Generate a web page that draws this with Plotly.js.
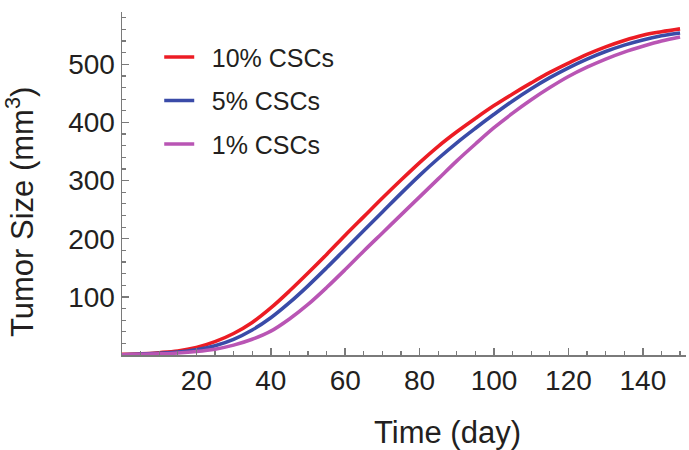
<!DOCTYPE html>
<html>
<head>
<meta charset="utf-8">
<script src="https://cdn.plot.ly/plotly-3.0.1.min.js"></script>
<style>html,body{margin:0;padding:0;background:#fff;}#chart{width:689px;height:450px;}</style>
</head>
<body>
<div id="chart"></div>
<script>
const days = [0,5,10,15,20,25,30,35,40,45,50,55,60,65,70,75,80,85,90,95,100,105,110,115,120,125,130,135,140,145,150];
const csc10 = [1,2,4,7,13,23,37,56,81,110,141,173,206,238,270,301,331,359,384,407,429,449,468,486,502,517,530,541,550,556,561];
const csc5  = [0.5,1.5,3,5,9,16,27,43,64,90,119,150,182,214,246,278,309,338,365,390,414,437,458,477,494,509,522,533,542,549,554];
const csc1  = [0.5,1,2,3.5,6,10,17,27,41,62,87,116,147,179,210,241,272,303,334,363,391,416,439,460,479,495,509,521,531,540,547];
const seriesNames = ['10% CSCs','5% CSCs','1% CSCs'];
const seriesColors = ['#ec1c24','#3a4ba8','#b955b4'];
const xTicks = [20,40,60,80,100,120,140];
const yTicks = [100,200,300,400,500];
const xTitle = 'Time (day)';
const yTitle = 'Tumor Size (mm<sup>3</sup>)';

const FONT = 'Liberation Sans, Arial, Helvetica, sans-serif';
const seriesData = [csc10, csc5, csc1];
const traces = seriesData.map((ys, i) => ({
  x: days, y: ys, type: 'scatter', mode: 'lines', name: '\u2002' + seriesNames[i],
  legendgroup: 'g' + i,
  line: {color: seriesColors[i], width: 3.6, shape: 'spline', smoothing: 1}
}));

const axisCommon = {
  showgrid: false, zeroline: false, showline: true, linecolor: '#7a7a7a', linewidth: 1.5,
  ticks: 'inside', ticklen: 7, tickwidth: 1.5, tickcolor: '#7a7a7a',
  tickfont: {family: FONT, size: 28, color: '#231f20'},
  fixedrange: true
};

const layout = {
  width: 689, height: 450,
  margin: {l: 122, r: 3, t: 12, b: 95},
  paper_bgcolor: '#fff', plot_bgcolor: '#fff',
  showlegend: true,
  legend: {
    x: 0.066, y: 0.935, xanchor: 'left', yanchor: 'top',
    font: {family: FONT, size: 25, color: '#231f20'},
    bgcolor: 'rgba(0,0,0,0)', traceorder: 'grouped', tracegroupgap: 8,
    itemwidth: 30
  },
  xaxis: Object.assign({}, axisCommon, {
    range: [0, 151.6], tickmode: 'array', tickvals: xTicks, ticktext: xTicks.map(String),
    minor: {dtick: 5, tick0: 0, ticks: 'inside', ticklen: 4, tickwidth: 1.2, tickcolor: '#7a7a7a', showgrid: false}
  }),
  yaxis: Object.assign({}, axisCommon, {
    range: [0, 590], tickmode: 'array', tickvals: yTicks, ticktext: yTicks.map(String),
    minor: {dtick: 20, tick0: 0, ticks: 'inside', ticklen: 4, tickwidth: 1.2, tickcolor: '#7a7a7a', showgrid: false}
  }),
  annotations: [
    {text: xTitle, xref: 'paper', yref: 'paper', x: 0.578, y: -0.225, xanchor: 'center', yanchor: 'middle',
     showarrow: false, font: {family: FONT, size: 31, color: '#231f20'}},
    {text: yTitle, xref: 'paper', yref: 'paper', x: -0.182, y: 0.418, xanchor: 'center', yanchor: 'middle',
     textangle: -90, showarrow: false, font: {family: FONT, size: 31, color: '#231f20'}}
  ]
};

Plotly.newPlot('chart', traces, layout, {displayModeBar: false, staticPlot: true});
</script>
</body>
</html>
